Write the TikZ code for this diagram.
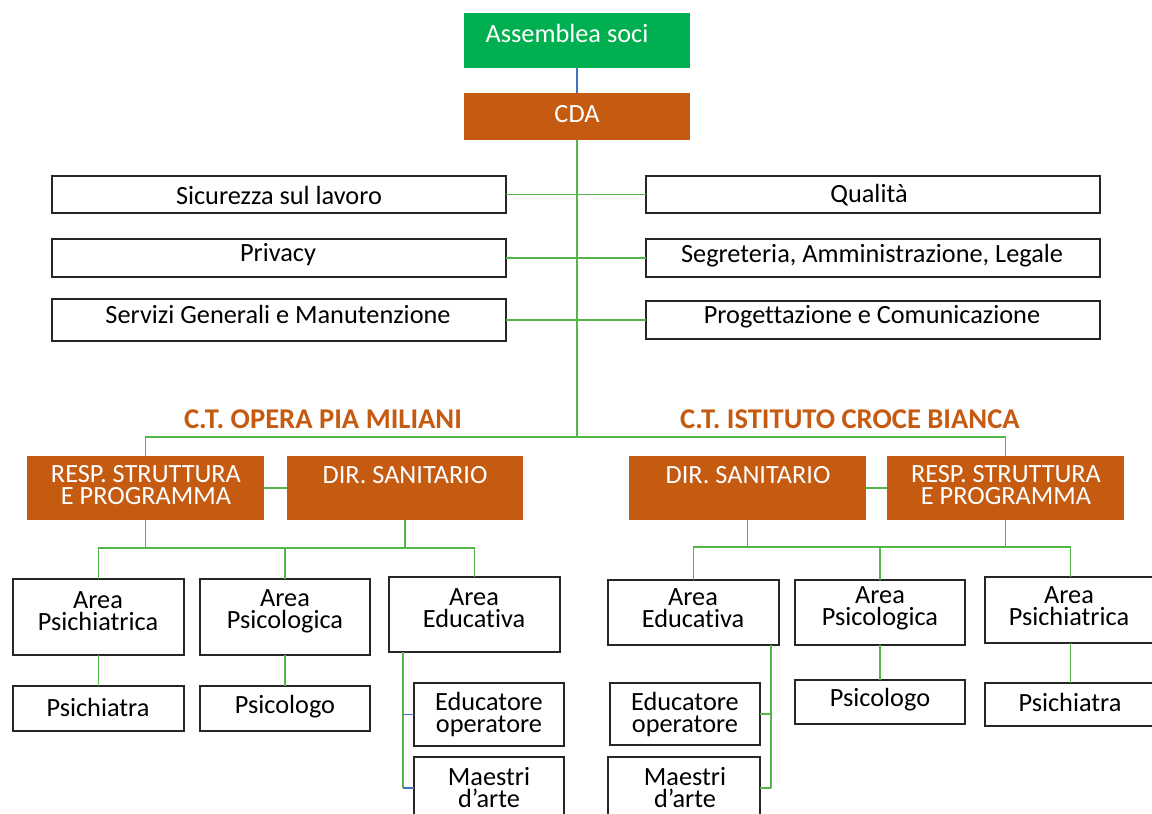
\documentclass[tikz,border=0pt]{standalone}
\usepackage{fontspec}
\setmainfont{Carlito}[Ligatures=NoCommon]
\definecolor{orng}{RGB}{197,90,17}
\definecolor{grn}{RGB}{0,176,80}
\definecolor{lgrn}{RGB}{84,182,72}
\definecolor{lblue}{RGB}{68,114,196}
\newcommand\orgbox[6]{%
  \node[#1, minimum width={(#5-#3)*1pt}, minimum height={(#6-#4)*1pt}] (#2) at ({(#3+#5)/2},{(#4+#6)/2}) {};}
\begin{document}
\begin{tikzpicture}[x=1pt,y=-1pt,
  wbox/.style={draw=black!85, line width=1.2pt, fill=white, inner sep=0pt, outer sep=0pt},
  obox/.style={fill=orng, inner sep=0pt, outer sep=0pt},
  gbox/.style={fill=grn, inner sep=0pt, outer sep=0pt},
  txt/.style={font=\fontsize{26.3}{22}\selectfont, align=center, inner sep=0pt},
  wtxt/.style={txt, text=white},
  hd/.style={font=\fontsize{28.6}{30}\selectfont\bfseries, text=orng, inner sep=0pt},
  conn/.style={draw=lgrn, line width=1.2pt},
  bconn/.style={draw=lblue, line width=1.2pt}]
\useasboundingbox (0,0) rectangle (1152,814);
\clip (0,0) rectangle (1152,814);
% top
\orgbox{gbox}{ass}{464}{13}{690}{68}
\orgbox{obox}{cda}{464}{93}{690}{140}
% staff boxes
\orgbox{wbox}{sic}{52}{176}{506}{213}
\orgbox{wbox}{pri}{52}{239}{506}{277}
\orgbox{wbox}{ser}{52}{299}{506}{341}
\orgbox{wbox}{qua}{646}{176}{1100}{213}
\orgbox{wbox}{seg}{646}{239}{1100}{277}
\orgbox{wbox}{pro}{646}{301}{1100}{339}
% second level
\orgbox{obox}{respL}{27}{456}{264}{520}
\orgbox{obox}{dirL}{287}{456}{523}{520}
\orgbox{obox}{dirR}{629}{456}{866}{520}
\orgbox{obox}{respR}{887}{456}{1124}{520}
% left areas
\orgbox{wbox}{apsiL}{13}{579}{184}{655}
\orgbox{wbox}{apsoL}{200}{579}{370}{655}
\orgbox{wbox}{aeduL}{389}{577}{560}{652}
\orgbox{wbox}{psiL}{13}{686}{184}{731}
\orgbox{wbox}{psoL}{200}{686}{370}{731}
\orgbox{wbox}{educL}{414}{683}{564}{746}
\orgbox{wbox}{maeL}{414}{757}{564}{819}
% right areas
\orgbox{wbox}{aeduR}{608}{580}{779}{645}
\orgbox{wbox}{apsoR}{795}{580}{965}{645}
\orgbox{wbox}{apsiR}{985}{577}{1156}{643}
\orgbox{wbox}{psoR}{795}{680}{965}{724}
\orgbox{wbox}{psiR}{985}{683}{1156}{726}
\orgbox{wbox}{educR}{610}{683}{760}{745}
\orgbox{wbox}{maeR}{608}{757}{760}{819}
% texts
\node[wtxt] (tass) at (567,33) {Assemblea soci};
\node[wtxt] (tcda) at (577,114) {CDA};
\node[txt] (tsic) at (279,195) {Sicurezza sul lavoro};
\node[txt] (tpri) at (278,255) {Privacy};
\node[txt] (tser) at (278,314) {Servizi Generali e Manutenzione};
\node[txt] (tqua) at (869,195) {Qualità};
\node[txt] (tseg) at (872,256) {Segreteria, Amministrazione, Legale};
\node[txt] (tpro) at (872,317) {Progettazione e Comunicazione};
\node[hd] (hL) at (323,419) {C.T. OPERA PIA MILIANI};
\node[hd] (hR) at (850,419) {C.T. ISTITUTO CROCE BIANCA};
\node[wtxt] (trespL) at (146,485) {RESP. STRUTTURA\\E PROGRAMMA};
\node[wtxt] (tdirL) at (405,475) {DIR. SANITARIO};
\node[wtxt] (tdirR) at (748,475) {DIR. SANITARIO};
\node[wtxt] (trespR) at (1006,485) {RESP. STRUTTURA\\E PROGRAMMA};
\node[txt] (tapsiL) at (98,611) {Area\\Psichiatrica};
\node[txt] (tapsoL) at (285,611) {Area\\Psicologica};
\node[txt] (taeduL) at (474,608) {Area\\Educativa};
\node[txt] (tpsiL) at (98,707) {Psichiatra};
\node[txt] (tpsoL) at (285,707) {Psicologo};
\node[txt] (teducL) at (489,714) {Educatore\\operatore};
\node[txt] (tmaeL) at (489,788) {Maestri\\d’arte};
\node[txt] (taeduR) at (693,608) {Area\\Educativa};
\node[txt] (tapsoR) at (880,608) {Area\\Psicologica};
\node[txt] (tapsiR) at (1069,606) {Area\\Psichiatrica};
\node[txt] (tpsoR) at (880,700) {Psicologo};
\node[txt] (tpsiR) at (1070,702) {Psichiatra};
\node[txt] (teducR) at (685,714) {Educatore\\operatore};
\node[txt] (tmaeR) at (685,788) {Maestri\\d’arte};
% connectors
\coordinate (j1) at (577,437);
\coordinate (jL) at (0,548);
\coordinate (jR) at (0,547);
\coordinate (eL) at (403,0);
\coordinate (eR) at (771,0);
\draw[bconn] (ass.south) -- (cda.north);
\draw[conn] (cda.south) -- (j1);
\draw[conn] (sic.east) -- (qua.west);
\draw[conn] (pri.east) -- (seg.west);
\draw[conn] (ser.east) -- (pro.west);
\draw[conn] (respL.north) |- (j1) -| (respR.north);
\draw[conn] (respL.east) -- (dirL.west);
\draw[conn] (dirR.east) -- (respR.west);
% left subtree
\draw[conn] (respL.south) -- (respL.south |- jL);
\draw[conn] (dirL.south) -- (dirL.south |- jL);
\draw[conn] (apsiL.north) -- (apsiL.north |- jL) -- (aeduL.north |- jL) -- (aeduL.north);
\draw[conn] (apsoL.north) -- (apsoL.north |- jL);
\draw[conn] (apsiL.south) -- (psiL.north);
\draw[conn] (apsoL.south) -- (psoL.north);
\draw[conn] (aeduL.south -| eL) -- (eL |- maeL.west);
\draw[bconn] (eL |- educL.west) -- (educL.west);
\draw[bconn] (eL |- maeL.west) -- (maeL.west);
% right subtree
\draw[conn] (dirR.south) -- (dirR.south |- jR);
\draw[conn] (respR.south) -- (respR.south |- jR);
\draw[conn] (aeduR.north) -- (aeduR.north |- jR) -- (apsiR.north |- jR) -- (apsiR.north);
\draw[conn] (apsoR.north) -- (apsoR.north |- jR);
\draw[conn] (apsoR.south) -- (psoR.north);
\draw[conn] (apsiR.south) -- (psiR.north);
\draw[conn] (aeduR.south -| eR) -- (eR |- maeR.east);
\draw[conn] (eR |- educR.east) -- (educR.east);
\draw[conn] (eR |- maeR.east) -- (maeR.east);
\end{tikzpicture}
\end{document}
